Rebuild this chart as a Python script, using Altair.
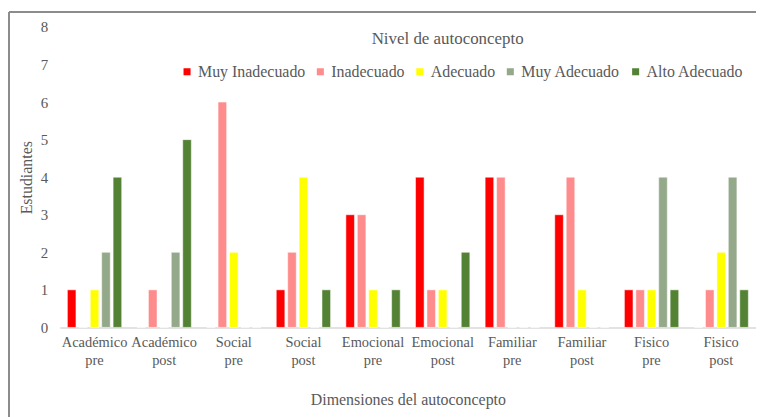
import altair as alt
import pandas as pd

categories = ["Académico pre", "Académico post", "Social pre", "Social post",
              "Emocional pre", "Emocional post", "Familiar pre", "Familiar post",
              "Fisico pre", "Fisico post"]
series = ["Muy Inadecuado", "Inadecuado", "Adecuado", "Muy Adecuado", "Alto Adecuado"]
muy_inadecuado = [1, 0, 0, 1, 3, 4, 4, 3, 1, 0]
inadecuado = [0, 1, 6, 2, 3, 1, 4, 4, 1, 1]
adecuado = [1, 0, 2, 4, 1, 1, 0, 1, 1, 2]
muy_adecuado = [2, 2, 0, 0, 0, 0, 0, 0, 4, 4]
alto_adecuado = [4, 5, 0, 1, 1, 2, 0, 0, 1, 1]
colors = ["#FF0000", "#FF8C8C", "#FFFF00", "#94A88A", "#548235"]

values = [muy_inadecuado, inadecuado, adecuado, muy_adecuado, alto_adecuado]
rows = []
for s, vals in zip(series, values):
    for c, v in zip(categories, vals):
        rows.append({"cat": c, "serie": s, "n": v})
df = pd.DataFrame(rows)

FONT = "'Liberation Serif', 'Times New Roman', 'DejaVu Serif', serif"
GRAY = "#595959"

bars = alt.Chart(df).mark_bar(stroke="white", strokeWidth=0.5).encode(
    x=alt.X("cat:N", sort=categories,
            scale=alt.Scale(paddingInner=0.22, paddingOuter=0.11),
            axis=alt.Axis(title="Dimensiones del autoconcepto", labelAngle=0,
                          labelExpr="split(datum.label, ' ')",
                          labelFont=FONT, labelFontSize=14.5, labelColor=GRAY,
                          labelLineHeight=18, labelPadding=8,
                          ticks=False, domainColor="#D9D9D9", domainWidth=1.5,
                          titleFont=FONT, titleFontSize=16, titleFontWeight="normal",
                          titleColor=GRAY, titlePadding=25)),
    xOffset=alt.XOffset("serie:N", sort=series,
                        scale=alt.Scale(paddingInner=0.25)),
    y=alt.Y("n:Q", scale=alt.Scale(domain=[0, 8]),
            axis=alt.Axis(title="Estudiantes", values=list(range(9)), grid=False,
                          domain=False, ticks=False, labelPadding=12,
                          labelFont=FONT, labelFontSize=15, labelColor=GRAY,
                          titleFont=FONT, titleFontSize=16, titleFontWeight="normal",
                          titleColor=GRAY, titlePadding=6)),
    color=alt.Color("serie:N", sort=series,
                    scale=alt.Scale(domain=series, range=colors),
                    legend=alt.Legend(title=None, orient="none", direction="horizontal",
                                      legendX=120, legendY=37, symbolType="square",
                                      symbolSize=50, symbolStrokeWidth=0,
                                      labelFont=FONT, labelFontSize=16, labelColor=GRAY,
                                      labelOffset=3, columnPadding=7)),
)

# chart frame: only its top and left edges are visible in the reference
frame_top = alt.Chart(df).mark_rule(stroke="#8C8C8C", strokeWidth=1.5).encode(
    x=alt.value(-51), x2=alt.value(700), y=alt.value(-15)
)
frame_left = alt.Chart(df).mark_rule(stroke="#8C8C8C", strokeWidth=1.5).encode(
    x=alt.value(-51), y=alt.value(-15), y2=alt.value(400)
)

chart = alt.layer(frame_top, frame_left, bars).properties(
    width=700, height=302,
    title=alt.Title("Nivel de autoconcepto", font=FONT, fontSize=17,
                    fontWeight="normal", color=GRAY, frame="group",
                    anchor="middle", dx=40, offset=-37),
    autosize=alt.AutoSizeParams(type="none"),
    padding={"left": 52, "top": 18, "right": 0, "bottom": 91},
).configure_view(stroke=None)

chart.save("out.html", embed_options={"renderer": "svg", "actions": False})
